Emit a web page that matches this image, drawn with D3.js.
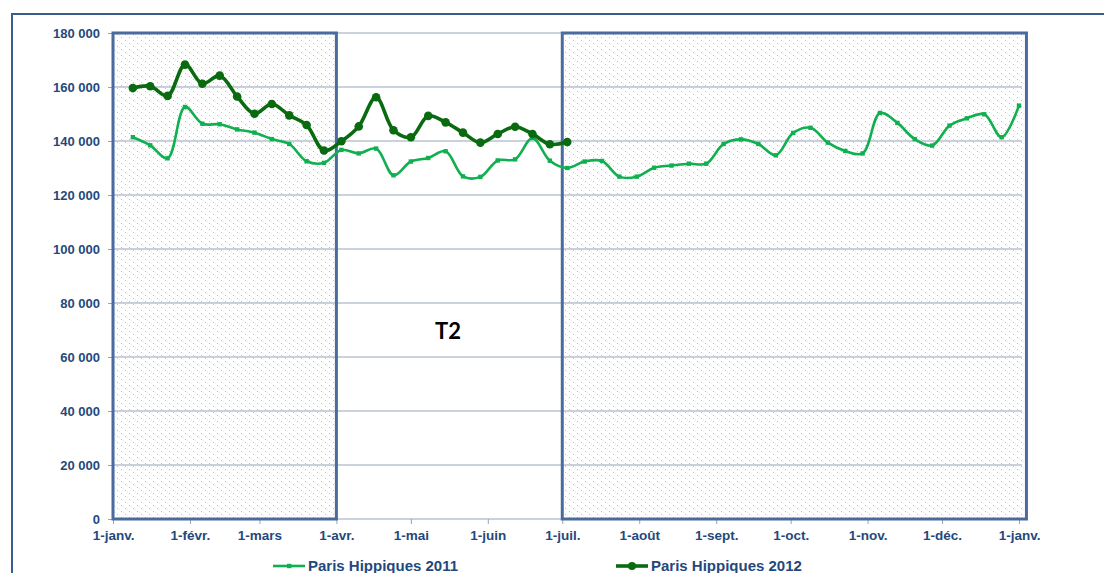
<!DOCTYPE html>
<html><head><meta charset="utf-8">
<script src="https://cdn.jsdelivr.net/npm/d3@7"></script>
<style>
html,body{margin:0;padding:0;background:#fff;overflow:hidden}
svg{display:block}
</style></head>
<body>
<svg id="chart" width="1104" height="573"></svg>
<script>
// ---- data ----
const monthLabels = ["1-janv.","1-févr.","1-mars","1-avr.","1-mai","1-juin","1-juil.","1-août","1-sept.","1-oct.","1-nov.","1-déc.","1-janv."];
const yTicks = [0,20000,40000,60000,80000,100000,120000,140000,160000,180000];
const series2011 = [141400,138400,133600,152600,146400,146200,144300,143100,140700,138900,132500,131900,
  136700,135400,137200,127300,132400,133700,136200,126900,126700,132800,133200,141100,132700,130000,
  132400,132600,126800,126800,130100,130900,131600,131600,138900,140600,138900,134700,
  143000,144900,139400,136300,135400,150400,146700,140700,138300,145700,148400,149900,141400,153100];
const series2012 = [159600,160300,156700,168300,161200,164200,156500,150100,153700,149500,145900,136500,
  139900,145400,156200,144000,141400,149300,146900,143100,139400,142600,145300,142600,138800,139600];
const seriesNames = ["Paris Hippiques 2011","Paris Hippiques 2012"];
const firstWeek = new Date(2011,0,9);
const shadedPeriods = [[new Date(2011,0,1), new Date(2011,3,1)],[new Date(2011,6,1), new Date(2012,0,4)]];
const annotation = {text:"T2", date:new Date(2011,4,16), value:70000};

// ---- layout ----
const svg = d3.select("#chart");
const x = d3.scaleTime().domain([new Date(2011,0,1), new Date(2012,0,1)]).range([113,1019]);
const y = d3.scaleLinear().domain([0,180000]).range([519,33]);
const weekDates = d3.range(series2011.length).map(i => d3.timeDay.offset(firstWeek, 7*i));
const monthDates = d3.timeMonth.range(new Date(2011,0,1), new Date(2012,0,2));
const fr = d3.formatLocale({decimal:",", thousands:"\u00a0", grouping:[3], currency:["","€"]});
const fmt = fr.format(",d");

const textColor = "#1F497D";
const gridColor = "#97A3BA";
const borderColor = "#4A6B9E";
const c2011 = "#10B050";
const c2012 = "#0A6A10";

// pattern
const defs = svg.append("defs");
const pat = defs.append("pattern").attr("id","dots").attr("patternUnits","userSpaceOnUse")
  .attr("width",8).attr("height",6);
pat.append("rect").attr("width",8).attr("height",6).attr("fill","#fff");
pat.append("rect").attr("x",1).attr("y",1).attr("width",1).attr("height",1).attr("fill","#A9C1E4");
pat.append("rect").attr("x",5).attr("y",4).attr("width",1).attr("height",1).attr("fill","#A9C1E4");
pat.append("rect").attr("x",3).attr("y",2).attr("width",1).attr("height",1).attr("fill","#E3EBF7");
pat.append("rect").attr("x",7).attr("y",5).attr("width",1).attr("height",1).attr("fill","#E3EBF7");

// outer frame
svg.append("rect").attr("x",12).attr("y",14).attr("width",1110).attr("height",600)
  .attr("fill","none").attr("stroke","#3A5C8F").attr("stroke-width",2);

// shaded fills
svg.selectAll("rect.shade").data(shadedPeriods).enter().append("rect").attr("class","shade")
  .attr("x",d=>x(d[0])).attr("y",y(180000)).attr("width",d=>x(d[1])-x(d[0])).attr("height",y(0)-y(180000))
  .attr("fill","url(#dots)");

// gridlines
svg.append("g").selectAll("line").data(yTicks.filter(v=>v>0)).enter().append("line")
  .attr("x1",113).attr("x2",1022).attr("y1",d=>y(d)).attr("y2",d=>y(d))
  .attr("stroke",gridColor).attr("stroke-width",1.2);

// y axis
const yAxis = svg.append("g").attr("transform","translate(113,0)")
  .call(d3.axisLeft(y).tickValues(yTicks).tickFormat(fmt).tickSize(5).tickPadding(8));
yAxis.select(".domain").attr("stroke",gridColor).attr("stroke-width",1.2);
yAxis.selectAll(".tick line").attr("stroke",gridColor);
yAxis.selectAll("text").attr("fill",textColor).attr("font-family","Liberation Sans, Arial, sans-serif")
  .attr("font-weight","bold").attr("font-size","13px");

// x axis
const xAxis = svg.append("g").attr("transform","translate(0,519)")
  .call(d3.axisBottom(x).tickValues(monthDates).tickFormat((d,i)=>monthLabels[i]).tickSize(5).tickPadding(6).tickSizeOuter(0));
xAxis.select(".domain").attr("stroke",gridColor).attr("stroke-width",1.2).attr("d","M113,0H1022");
xAxis.selectAll(".tick line").attr("stroke",gridColor);
xAxis.selectAll("text").attr("fill",textColor).attr("font-family","Liberation Sans, Arial, sans-serif")
  .attr("font-weight","bold").attr("font-size","13.5px");

// shaded borders
svg.selectAll("rect.shadeb").data(shadedPeriods).enter().append("rect").attr("class","shadeb")
  .attr("x",d=>x(d[0])).attr("y",y(180000)).attr("width",d=>x(d[1])-x(d[0])).attr("height",y(0)-y(180000))
  .attr("fill","none").attr("stroke",borderColor).attr("stroke-width",3);

// lines
const line = d3.line().x((d,i)=>x(weekDates[i])).y(d=>y(d)).curve(d3.curveCatmullRom.alpha(0.5));
svg.append("path").datum(series2011).attr("d",line).attr("fill","none").attr("stroke",c2011).attr("stroke-width",2.6);
svg.append("g").selectAll("rect").data(series2011).enter().append("rect")
  .attr("x",(d,i)=>x(weekDates[i])-2.2).attr("y",d=>y(d)-2.2).attr("width",4.4).attr("height",4.4).attr("fill",c2011);
svg.append("path").datum(series2012).attr("d",line).attr("fill","none").attr("stroke",c2012).attr("stroke-width",3.6);
svg.append("g").selectAll("circle").data(series2012).enter().append("circle")
  .attr("cx",(d,i)=>x(weekDates[i])).attr("cy",d=>y(d)).attr("r",4.3).attr("fill",c2012);

// annotation
svg.append("text").attr("x",x(annotation.date)).attr("y",y(annotation.value)).attr("text-anchor","middle")
  .attr("dominant-baseline","central").attr("font-family","Lato, 'Open Sans', sans-serif").attr("font-weight","bold")
  .attr("font-size","22px").attr("fill","#000").text(annotation.text);

// legend
const legend = [{name:seriesNames[0], color:c2011, x:273, sym:"square", w:2.6},{name:seriesNames[1], color:c2012, x:616, sym:"circle", w:3.6}];
const lg = svg.append("g").selectAll("g").data(legend).enter().append("g").attr("transform",d=>`translate(${d.x},566)`);
lg.append("line").attr("x1",0).attr("x2",32).attr("stroke",d=>d.color).attr("stroke-width",d=>d.w);
lg.filter(d=>d.sym==="square").append("rect").attr("x",14).attr("y",-2.2).attr("width",4.4).attr("height",4.4).attr("fill",d=>d.color);
lg.filter(d=>d.sym==="circle").append("circle").attr("cx",16).attr("r",4).attr("fill",d=>d.color);
lg.append("text").attr("x",35).attr("y",5).attr("fill",textColor).attr("font-family","Liberation Sans, Arial, sans-serif")
  .attr("font-weight","bold").attr("font-size","15px").text(d=>d.name);
</script>
</body></html>
